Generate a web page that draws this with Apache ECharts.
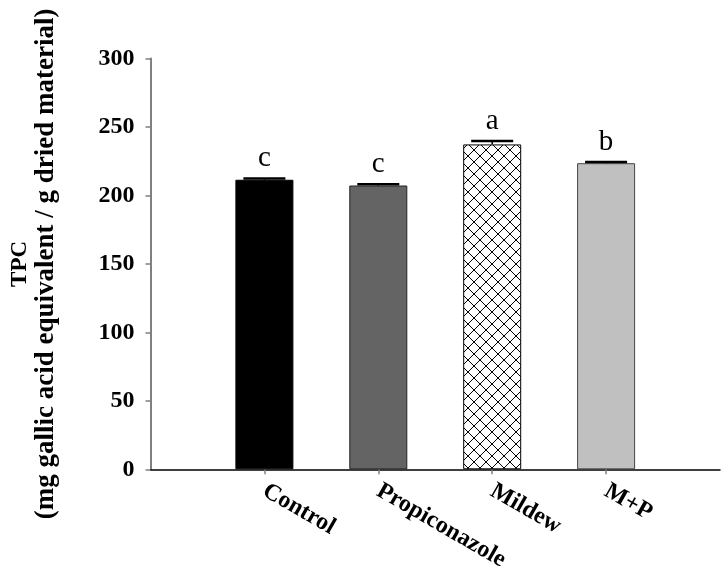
<!DOCTYPE html>
<html>
<head>
<meta charset="utf-8">
<script src="https://cdn.jsdelivr.net/npm/echarts@6/dist/echarts.min.js"></script>
<style>
html,body{margin:0;padding:0;background:#fff;}
#chart{width:723px;height:574px;}
</style>
</head>
<body>
<div id="chart"></div>
<script>
// ---- data ----
var categories = ['Control', 'Propiconazole', 'Mildew', 'M+P'];
var means = [211.5, 207.3, 237.3, 223.6];
var errors = [1.0, 1.0, 2.6, 0.8];
var letters = ['c', 'c', 'a', 'b'];
var yTicks = [0, 50, 100, 150, 200, 250, 300];
var yTitle = 'TPC';
var ySubTitle = '(mg gallic acid equivalent / g dried material)';

// ---- styles ----
var SERIF = "'Liberation Serif', 'Times New Roman', serif";

function hatchCanvas() {
  var s = 12;
  var c = document.createElement('canvas');
  c.width = s; c.height = s;
  var ctx = c.getContext('2d');
  ctx.fillStyle = '#fff';
  ctx.fillRect(0, 0, s, s);
  ctx.strokeStyle = '#000';
  ctx.lineWidth = 1;
  ctx.beginPath();
  ctx.moveTo(-1, -1); ctx.lineTo(s + 1, s + 1);
  ctx.moveTo(s + 1, -1); ctx.lineTo(-1, s + 1);
  ctx.stroke();
  return c;
}

var barStyles = [
  { color: '#000000', borderColor: '#000000', borderWidth: 1 },
  { color: '#646464', borderColor: '#222222', borderWidth: 1 },
  { color: { image: hatchCanvas(), repeat: 'repeat' }, borderColor: '#000000', borderWidth: 1 },
  { color: '#c0c0c0', borderColor: '#444444', borderWidth: 1 }
];

// padded category axis so ticks sit at 1..4 of 0..5
var axisCats = [''].concat(categories).concat(['']);
var barData = ['-'];
for (var i = 0; i < categories.length; i++) {
  barData.push({ value: means[i], itemStyle: barStyles[i] });
}
barData.push('-');

var errData = [];
for (var j = 0; j < categories.length; j++) {
  errData.push([j + 1, means[j], errors[j], letters[j]]);
}

var chart = echarts.init(document.getElementById('chart'));
chart.setOption({
  animation: false,
  backgroundColor: '#ffffff',
  grid: { left: 150.5, right: 3, top: 58.6, bottom: 104.7 },
  xAxis: {
    type: 'category',
    data: axisCats,
    boundaryGap: false,
    axisLine: { lineStyle: { color: '#000', width: 1.5 } },
    axisTick: {
      show: true, length: 5,
      lineStyle: { color: '#808080', width: 1.5 },
      interval: function (idx) { return idx > 0 && idx < axisCats.length - 1; }
    },
    axisLabel: {
      interval: 0,
      rotate: -30,
      margin: 20,
      color: '#000',
      fontFamily: SERIF,
      fontWeight: 'bold',
      fontSize: 24
    },
    splitLine: { show: false }
  },
  yAxis: {
    type: 'value',
    min: yTicks[0],
    max: yTicks[yTicks.length - 1],
    interval: 50,
    name: '{t|' + yTitle + '}\n{u|' + ySubTitle + '}',
    nameLocation: 'middle',
    nameRotate: 90,
    nameGap: 91,
    nameTextStyle: {
      color: '#000',
      fontFamily: SERIF,
      fontWeight: 'bold',
      rich: {
        t: { fontFamily: SERIF, fontWeight: 'bold', fontSize: 23, lineHeight: 24, color: '#000' },
        u: { fontFamily: SERIF, fontWeight: 'bold', fontSize: 27, lineHeight: 27, color: '#000' }
      }
    },
    axisLine: { show: true, lineStyle: { color: '#808080', width: 2 } },
    axisTick: { show: true, length: 5, lineStyle: { color: '#808080', width: 1.5 } },
    axisLabel: {
      margin: 16,
      color: '#000',
      fontFamily: SERIF,
      fontWeight: 'bold',
      fontSize: 24
    },
    splitLine: { show: false }
  },
  series: [
    {
      type: 'bar',
      data: barData,
      barWidth: 58,
      z: 2
    },
    {
      type: 'custom',
      z: 5,
      data: errData,
      renderItem: function (params, api) {
        var x = api.value(0);
        var m = api.value(1);
        var e = api.value(2);
        var letter = errData[params.dataIndex][3];
        var p0 = api.coord([x, m]);
        var p1 = api.coord([x, m + e]);
        var half = 21;
        return {
          type: 'group',
          children: [
            { type: 'line', shape: { x1: p0[0], y1: p0[1], x2: p1[0], y2: p1[1] },
              style: { stroke: '#000', lineWidth: 1.5 } },
            { type: 'line', shape: { x1: p1[0] - half, y1: p1[1], x2: p1[0] + half, y2: p1[1] },
              style: { stroke: '#000', lineWidth: 2.5 } },
            { type: 'text', x: p1[0], y: p1[1] - 5,
              style: { text: letter, fill: '#000', font: "29px " + SERIF,
                       align: 'center', verticalAlign: 'bottom' } }
          ]
        };
      }
    }
  ]
});
</script>
</body>
</html>
